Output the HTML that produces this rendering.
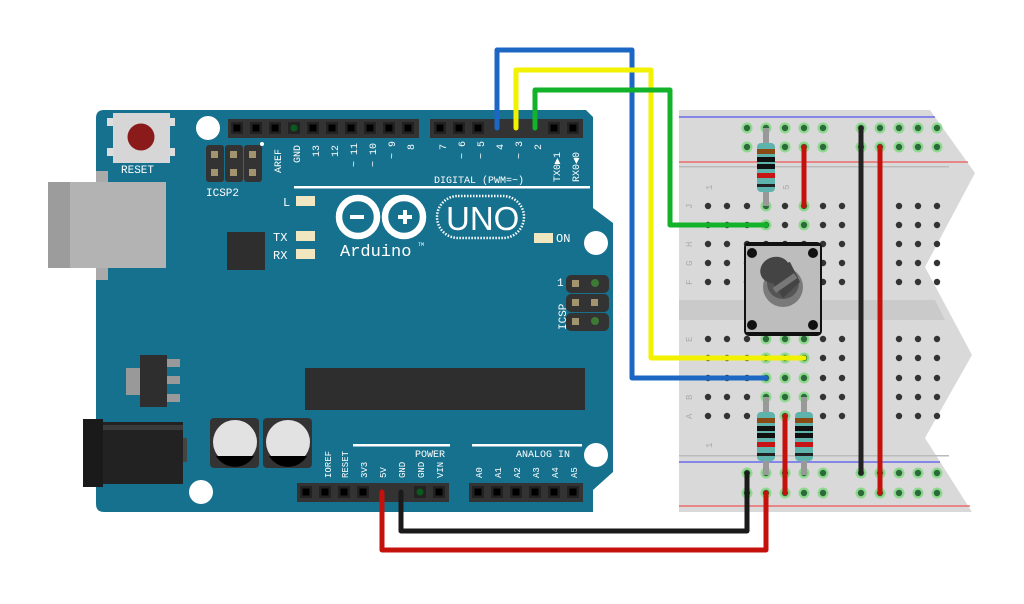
<!DOCTYPE html>
<html><head><meta charset="utf-8"><style>
html,body{margin:0;padding:0;background:#fff;}
svg{display:block;}
text{font-family:"Liberation Mono",monospace;fill:#fff;}
</style></head><body>
<svg width="1024" height="604" viewBox="0 0 1024 604" xmlns="http://www.w3.org/2000/svg">
<defs>
<g id="pin"><rect x="-6" y="-6" width="12" height="12" fill="#222"/><rect x="-3.5" y="-3.5" width="7" height="7" fill="#000"/></g>
<circle id="h" r="3.2" fill="#333"/>
<g id="hg"><circle r="5.5" fill="#8fd88f"/><circle r="3.2" fill="#2b6b3a"/></g>
<g id="rowtop">
<use href="#h" x="708" y="0"/><use href="#h" x="727" y="0"/><use href="#h" x="747" y="0"/><use href="#h" x="766" y="0"/><use href="#h" x="785" y="0"/><use href="#h" x="804" y="0"/><use href="#h" x="823" y="0"/><use href="#h" x="842" y="0"/><use href="#h" x="899" y="0"/><use href="#h" x="918" y="0"/><use href="#h" x="937" y="0"/>
</g>
<g id="res">
<line x1="0" y1="0" x2="0" y2="78" stroke="#999" stroke-width="6"/>
<rect x="-9" y="15" width="18" height="49" rx="4" fill="#5fb3ad"/>
<rect x="-9" y="21" width="18" height="5" fill="#8a4a14"/>
<rect x="-9" y="29" width="18" height="5" fill="#111"/>
<rect x="-9" y="36" width="18" height="5" fill="#111"/>
<rect x="-9" y="45" width="18" height="5" fill="#c81414"/>
<rect x="-9" y="56" width="18" height="3" fill="#222"/>
</g>
</defs>

<!-- Breadboard -->
<path d="M679,110 L930,110 L975,173 L925,267 L972,355 L925,438 L972,512 L679,512 Z" fill="#d9d9d9"/>
<rect x="679" y="166" width="270" height="1.5" fill="#bbb"/>
<rect x="679" y="455" width="270" height="1.5" fill="#bbb"/>
<path d="M679,300 L935,300 L945,320 L679,320 Z" fill="#cacaca"/>
<line x1="679" y1="117" x2="935" y2="117" stroke="#5555ee" stroke-width="1.2"/>
<line x1="679" y1="162" x2="968" y2="162" stroke="#ee5555" stroke-width="1.2"/>
<line x1="679" y1="462" x2="940" y2="462" stroke="#5555ee" stroke-width="1.2"/>
<line x1="679" y1="506" x2="970" y2="506" stroke="#ee5555" stroke-width="1.2"/>
<g font-size="9" style="font-family:'Liberation Sans',sans-serif">
<text x="0" y="0" style="fill:#aaa" transform="translate(712,190) rotate(-90)">1</text>
<text x="0" y="0" style="fill:#aaa" transform="translate(789,190) rotate(-90)">5</text>
<text x="0" y="0" style="fill:#aaa" transform="translate(712,448) rotate(-90)">1</text>
<text x="0" y="0" style="fill:#aaa" transform="translate(692,209) rotate(-90)">J</text>
<text x="0" y="0" style="fill:#aaa" transform="translate(692,247) rotate(-90)">H</text>
<text x="0" y="0" style="fill:#aaa" transform="translate(692,266) rotate(-90)">G</text>
<text x="0" y="0" style="fill:#aaa" transform="translate(692,285) rotate(-90)">F</text>
<text x="0" y="0" style="fill:#aaa" transform="translate(692,342) rotate(-90)">E</text>
<text x="0" y="0" style="fill:#aaa" transform="translate(692,400) rotate(-90)">B</text>
<text x="0" y="0" style="fill:#aaa" transform="translate(692,419) rotate(-90)">A</text>
</g>
<g>
<use href="#hg" x="747" y="128"/><use href="#hg" x="766" y="128"/><use href="#hg" x="785" y="128"/><use href="#hg" x="804" y="128"/><use href="#hg" x="823" y="128"/>
<use href="#hg" x="861" y="128"/><use href="#hg" x="880" y="128"/><use href="#hg" x="899" y="128"/><use href="#hg" x="918" y="128"/><use href="#hg" x="937" y="128"/>
<use href="#hg" x="747" y="147"/><use href="#hg" x="766" y="147"/><use href="#hg" x="785" y="147"/><use href="#hg" x="804" y="147"/><use href="#hg" x="823" y="147"/>
<use href="#hg" x="861" y="147"/><use href="#hg" x="880" y="147"/><use href="#hg" x="899" y="147"/><use href="#hg" x="918" y="147"/><use href="#hg" x="937" y="147"/>
<use href="#hg" x="747" y="473"/><use href="#hg" x="766" y="473"/><use href="#hg" x="785" y="473"/><use href="#hg" x="804" y="473"/><use href="#hg" x="823" y="473"/>
<use href="#hg" x="861" y="473"/><use href="#hg" x="880" y="473"/><use href="#hg" x="899" y="473"/><use href="#hg" x="918" y="473"/><use href="#hg" x="937" y="473"/>
<use href="#hg" x="747" y="493"/><use href="#hg" x="766" y="493"/><use href="#hg" x="785" y="493"/><use href="#hg" x="804" y="493"/><use href="#hg" x="823" y="493"/>
<use href="#hg" x="861" y="493"/><use href="#hg" x="880" y="493"/><use href="#hg" x="899" y="493"/><use href="#hg" x="918" y="493"/><use href="#hg" x="937" y="493"/>
</g>
<use href="#rowtop" y="206"/><use href="#rowtop" y="225"/><use href="#rowtop" y="244"/><use href="#rowtop" y="263"/><use href="#rowtop" y="282"/>
<use href="#rowtop" y="339"/><use href="#rowtop" y="358"/><use href="#rowtop" y="378"/><use href="#rowtop" y="397"/><use href="#rowtop" y="416"/>
<g>
<use href="#hg" x="766" y="206"/><use href="#hg" x="804" y="206"/><use href="#hg" x="766" y="225"/><use href="#hg" x="804" y="225"/>
<use href="#hg" x="766" y="339"/><use href="#hg" x="785" y="339"/><use href="#hg" x="804" y="339"/>
<use href="#hg" x="766" y="358"/><use href="#hg" x="785" y="358"/><use href="#hg" x="804" y="358"/>
<use href="#hg" x="766" y="378"/><use href="#hg" x="785" y="378"/><use href="#hg" x="804" y="378"/>
<use href="#hg" x="766" y="397"/><use href="#hg" x="785" y="397"/><use href="#hg" x="804" y="397"/>
<use href="#hg" x="766" y="416"/><use href="#hg" x="785" y="416"/><use href="#hg" x="804" y="416"/>
</g>

<!-- Arduino board -->
<path d="M104,110 L586,110 L593,117 L593,208 L613,223 L613,472 L593,490 L593,512 L104,512 Q96,512 96,504 L96,118 Q96,110 104,110 Z" fill="#15718e"/>
<rect x="96" y="171" width="12" height="109" fill="#aaa"/>
<rect x="48" y="182" width="118" height="86" fill="#b3b3b3"/>
<rect x="48" y="182" width="22" height="86" fill="#9c9c9c"/>
<rect x="107" y="118" width="10" height="8" fill="#ddd"/><rect x="107" y="148" width="10" height="8" fill="#ddd"/>
<rect x="165" y="118" width="10" height="8" fill="#ddd"/><rect x="165" y="148" width="10" height="8" fill="#ddd"/>
<rect x="113" y="113" width="57" height="50" fill="#d6d6d6"/>
<circle cx="141" cy="137" r="13.5" fill="#8b1a1a"/>
<text x="121" y="173" font-size="11">RESET</text>
<circle cx="208" cy="128" r="12" fill="#fff"/>
<circle cx="596" cy="243" r="12" fill="#fff"/>
<circle cx="596" cy="455" r="12" fill="#fff"/>
<circle cx="201" cy="492" r="12" fill="#fff"/>
<rect x="206" y="145" width="18" height="37" rx="3" fill="#333"/><rect x="225" y="145" width="18" height="37" rx="3" fill="#333"/><rect x="244" y="145" width="18" height="37" rx="3" fill="#333"/>
<g fill="#a39470"><rect x="211" y="151" width="7" height="7"/><rect x="230" y="151" width="7" height="7"/><rect x="249" y="151" width="7" height="7"/><rect x="211" y="169" width="7" height="7"/><rect x="230" y="169" width="7" height="7"/><rect x="249" y="169" width="7" height="7"/></g>
<circle cx="262" cy="144" r="2" fill="#fff"/>
<text x="206" y="196" font-size="11">ICSP2</text>
<rect x="228" y="119" width="191" height="19" fill="#333"/>
<g><use href="#pin" x="237" y="128"/><use href="#pin" x="256" y="128"/><use href="#pin" x="275" y="128"/><use href="#pin" x="313" y="128"/><use href="#pin" x="332" y="128"/><use href="#pin" x="351" y="128"/><use href="#pin" x="370" y="128"/><use href="#pin" x="389" y="128"/><use href="#pin" x="408" y="128"/></g>
<rect x="288" y="122" width="12" height="12" fill="#222"/><circle cx="294" cy="128" r="3.5" fill="#0b5a1d"/>
<rect x="430" y="119" width="153" height="19" fill="#333"/>
<g><use href="#pin" x="440" y="128"/><use href="#pin" x="459" y="128"/><use href="#pin" x="478" y="128"/><use href="#pin" x="554" y="128"/><use href="#pin" x="573" y="128"/></g>
<g font-size="10">
<text transform="translate(281,173) rotate(-90)">AREF</text>
<text transform="translate(300,163) rotate(-90)">GND</text>
<text transform="translate(319,157) rotate(-90)">13</text>
<text transform="translate(338,157) rotate(-90)">12</text>
<text transform="translate(357,167) rotate(-90)">~ 11</text>
<text transform="translate(376,167) rotate(-90)">~ 10</text>
<text transform="translate(395,159) rotate(-90)">~ 9</text>
<text transform="translate(414,150) rotate(-90)">8</text>
<text transform="translate(446,150) rotate(-90)">7</text>
<text transform="translate(465,159) rotate(-90)">~ 6</text>
<text transform="translate(484,159) rotate(-90)">~ 5</text>
<text transform="translate(503,150) rotate(-90)">4</text>
<text transform="translate(522,159) rotate(-90)">~ 3</text>
<text transform="translate(541,150) rotate(-90)">2</text>
<text transform="translate(560,182) rotate(-90)">TX0▶1</text>
<text transform="translate(579,182) rotate(-90)">RX0◀0</text>
</g>
<text x="434" y="183" font-size="10">DIGITAL (PWM=~)</text>
<rect x="294" y="186" width="296" height="2.5" fill="#fff"/>
<text x="283" y="206" font-size="12">L</text><rect x="296" y="196" width="19" height="10" fill="#f0e6c0"/>
<text x="273" y="241" font-size="12">TX</text><rect x="296" y="231" width="19" height="10" fill="#f0e6c0"/>
<text x="273" y="259" font-size="12">RX</text><rect x="296" y="249" width="19" height="10" fill="#f0e6c0"/>
<rect x="534" y="233" width="19" height="10" fill="#f0e6c0"/><text x="556" y="242" font-size="12">ON</text>
<rect x="227" y="232" width="38" height="38" fill="#2e2e2e"/>
<circle cx="358" cy="217" r="19" fill="none" stroke="#fff" stroke-width="6.5"/>
<circle cx="404" cy="217" r="19" fill="none" stroke="#fff" stroke-width="6.5"/>
<rect x="350" y="215" width="14" height="4" fill="#fff"/>
<rect x="398" y="215" width="14" height="4" fill="#fff"/><rect x="403" y="210" width="4" height="14" fill="#fff"/>
<rect x="437" y="196" width="87" height="42" rx="21" fill="none" stroke="#fff" stroke-width="2.5" stroke-dasharray="1.5 1.5"/>
<text x="446" y="230" font-size="33" style="font-family:'Liberation Sans',sans-serif">UNO</text>
<text x="340" y="256" font-size="17">Arduino</text><text x="418" y="246" font-size="5">TM</text>
<rect x="566" y="275" width="43" height="18" rx="5" fill="#333"/><rect x="566" y="294" width="43" height="18" rx="5" fill="#333"/><rect x="566" y="313" width="43" height="18" rx="5" fill="#333"/>
<g fill="#a39470"><rect x="572" y="280" width="7" height="7"/><rect x="572" y="299" width="7" height="7"/><rect x="591" y="299" width="7" height="7"/><rect x="572" y="318" width="7" height="7"/></g>
<circle cx="595" cy="283" r="4" fill="#3d7a36"/><circle cx="595" cy="321" r="4" fill="#3d7a36"/>
<text x="557" y="286" font-size="11">1</text>
<text transform="translate(566,330) rotate(-90)" font-size="11">ICSP</text>
<rect x="305" y="368" width="280" height="42" fill="#2e2e2e"/>
<rect x="126" y="368" width="16" height="27" fill="#999"/>
<rect x="166" y="359" width="14" height="8" fill="#999"/><rect x="166" y="376" width="14" height="8" fill="#999"/><rect x="166" y="394" width="14" height="8" fill="#999"/>
<rect x="140" y="355" width="27" height="52" fill="#2e2e2e"/>
<rect x="83" y="419" width="20" height="68" fill="#1a1a1a"/>
<rect x="103" y="422" width="80" height="62" fill="#222"/>
<rect x="103" y="425" width="80" height="5" fill="#3a3a3a"/>
<rect x="183" y="438" width="4" height="24" fill="#444"/>
<rect x="210" y="418" width="49" height="50" rx="4" fill="#333"/>
<rect x="263" y="418" width="49" height="50" rx="4" fill="#333"/>
<circle cx="235" cy="442" r="22" fill="#e2e2e2"/>
<circle cx="288" cy="442" r="22" fill="#e2e2e2"/>
<path d="M216,456 A22,22 0 0 0 254,456 Z" fill="#000"/>
<path d="M269,456 A22,22 0 0 0 307,456 Z" fill="#000"/>
<rect x="353" y="444" width="97" height="2.5" fill="#fff"/>
<rect x="472" y="444" width="110" height="2.5" fill="#fff"/>
<text x="415" y="457" font-size="10">POWER</text>
<text x="516" y="457" font-size="10">ANALOG IN</text>
<g font-size="9">
<text transform="translate(331,478) rotate(-90)">IOREF</text>
<text transform="translate(348,478) rotate(-90)">RESET</text>
<text transform="translate(367,478) rotate(-90)">3V3</text>
<text transform="translate(386,478) rotate(-90)">5V</text>
<text transform="translate(405,478) rotate(-90)">GND</text>
<text transform="translate(424,478) rotate(-90)">GND</text>
<text transform="translate(443,478) rotate(-90)">VIN</text>
<text transform="translate(482,478) rotate(-90)">A0</text>
<text transform="translate(501,478) rotate(-90)">A1</text>
<text transform="translate(520,478) rotate(-90)">A2</text>
<text transform="translate(539,478) rotate(-90)">A3</text>
<text transform="translate(558,478) rotate(-90)">A4</text>
<text transform="translate(577,478) rotate(-90)">A5</text>
</g>
<rect x="297" y="483" width="152" height="19" fill="#333"/>
<g><use href="#pin" x="306" y="492"/><use href="#pin" x="325" y="492"/><use href="#pin" x="344" y="492"/><use href="#pin" x="363" y="492"/><use href="#pin" x="439" y="492"/></g>
<rect x="414" y="486" width="12" height="12" fill="#222"/><circle cx="420" cy="492" r="3.5" fill="#0b5a1d"/>
<rect x="469" y="483" width="114" height="19" fill="#333"/>
<g><use href="#pin" x="478" y="492"/><use href="#pin" x="497" y="492"/><use href="#pin" x="516" y="492"/><use href="#pin" x="535" y="492"/><use href="#pin" x="554" y="492"/><use href="#pin" x="573" y="492"/></g>

<use href="#res" x="766" y="128"/>
<use href="#res" x="766" y="397"/>
<use href="#res" x="804" y="397"/>

<rect x="744" y="242" width="78" height="94" rx="5" fill="#111"/>
<rect x="746" y="246" width="74" height="86" fill="#bdbdbd"/>
<circle cx="752" cy="253" r="5" fill="#111"/><circle cx="813" cy="253" r="5" fill="#111"/>
<circle cx="752" cy="325" r="5" fill="#111"/><circle cx="813" cy="325" r="5" fill="#111"/>
<circle cx="783" cy="287" r="20" fill="#7a7a7a"/>
<circle cx="783" cy="283" r="16" fill="#555"/>
<ellipse cx="775" cy="270" rx="15" ry="13" fill="#444" transform="rotate(-20 775 270)"/>
<path d="M763,268 L783,298 L800,282 L790,262 Z" fill="#444"/>
<rect x="772" y="280" width="26" height="6" fill="#777" transform="rotate(-35 785 283)"/>

<g fill="none" stroke-width="5" stroke-linejoin="round" stroke-linecap="round">
<path d="M861,128 L861,473" stroke="#222"/>
<path d="M880,147 L880,493" stroke="#c4110c"/>
<path d="M804,147 L804,206" stroke="#c4110c"/>
<path d="M785,416 L785,493" stroke="#c4110c"/>
<path d="M497,128 L497,50 L632,50 L632,378 L766,378" stroke="#1c66c4"/>
<path d="M516,128 L516,70 L651,70 L651,358 L804,358" stroke="#f2f200"/>
<path d="M535,128 L535,90 L670,90 L670,225 L766,225" stroke="#12b22a"/>
<path d="M401,492 L401,531 L747,531 L747,473" stroke="#1a1a1a"/>
<path d="M382,492 L382,550 L766,550 L766,493" stroke="#c4110c"/>
</g>
</svg>
</body></html>
